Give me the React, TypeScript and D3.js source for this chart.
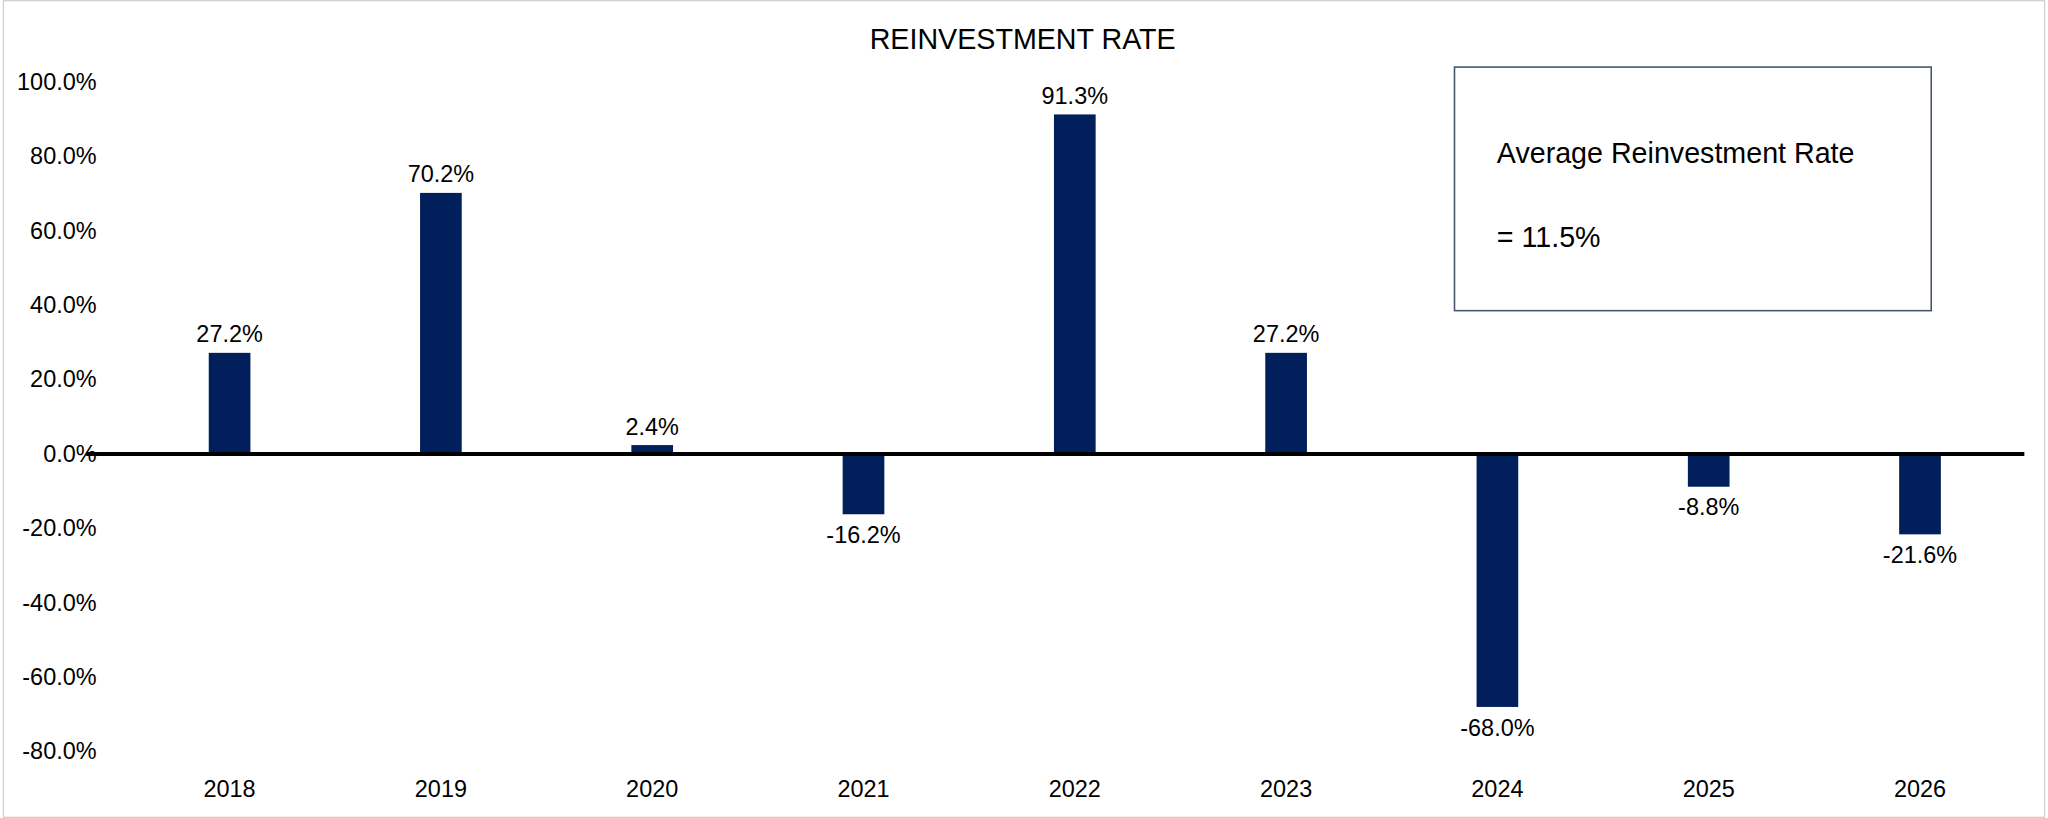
import React from "react";
import * as d3 from "d3";

const years = ["2018", "2019", "2020", "2021", "2022", "2023", "2024", "2025", "2026"];
const rates = [27.2, 70.2, 2.4, -16.2, 91.3, 27.2, -68.0, -8.8, -21.6];
const yTicks = [100, 80, 60, 40, 20, 0, -20, -40, -60, -80];

const W = 1568;
const H = 628;
const font = "'Liberation Sans Narrow', 'Arial Narrow', 'Liberation Sans', Arial, sans-serif";

function App() {
  const x = d3.scaleBand().domain(years).range([93, 1553]);
  const y = d3.scaleLinear().domain([-80, 100]).range([577, 63]);
  const bw = 32;
  const fmt = (v: number) => v.toFixed(1) + "%";

  return (
    <svg
      width={2048}
      height={818}
      viewBox={`0 0 ${W} ${H}`}
      style={{ position: "absolute", left: 0, top: 0, background: "#fff" }}
      fontFamily={font}
    >
      <rect x={0.5} y={0.5} width={W - 1} height={H - 1} fill="none" stroke="#d0d0d0" />
      <text x={783} y={38} textAnchor="middle" fontSize={22}>REINVESTMENT RATE</text>
      {yTicks.map((t) => (
        <text key={t} x={72} y={y(t) + 6} textAnchor="end" fontSize={18}>{fmt(t)}</text>
      ))}
      {years.map((yr, i) => {
        const cx = x(yr)! + x.bandwidth() / 2;
        const v = rates[i];
        return (
          <g key={yr}>
            <rect
              x={cx - bw / 2}
              y={Math.min(y(v), y(0))}
              width={bw}
              height={Math.abs(y(v) - y(0))}
              fill="#001f5b"
            />
            <text
              x={cx}
              y={v >= 0 ? y(v) - 8 : y(v) + 22}
              textAnchor="middle"
              fontSize={18}
            >{fmt(v)}</text>
            <text x={cx} y={612} textAnchor="middle" fontSize={18}>{yr}</text>
          </g>
        );
      })}
      <line x1={64} x2={1552} y1={y(0)} y2={y(0)} stroke="#000" strokeWidth={3} />
      <rect x={1114.5} y={51.5} width={366} height={187} fill="#fff" stroke="#44546a" strokeWidth={1.2} />
      <text x={1147} y={125} fontSize={22}>Average Reinvestment Rate</text>
      <text x={1147} y={190} fontSize={22}>= 11.5%</text>
    </svg>
  );
}

export default App;
